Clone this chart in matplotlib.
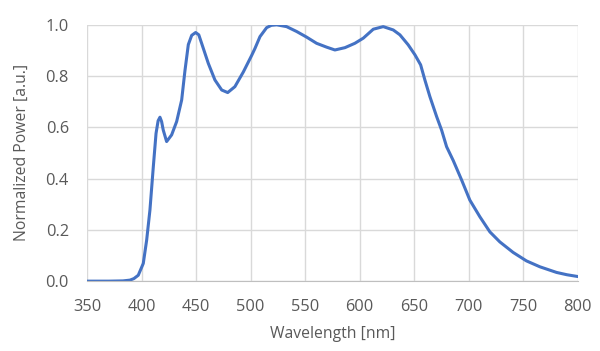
import matplotlib.pyplot as plt

# spectrum
wavelength = [350, 370, 383, 389.4, 393, 397, 401.6, 404.7, 407.7, 410.8, 413.3, 415.2, 416.9,
              418.4, 419.9, 423, 427.6, 432.2, 436.8, 439.8, 442.9, 446, 449.6, 452.5,
              455.1, 461.2, 467.3, 473.5, 479, 485.6, 493.3, 501, 504, 508.6, 514.7,
              519, 523.9, 533, 542.2, 551.4, 560.5, 569.7, 577.3, 586.5, 595.6, 603.3,
              612.5, 621.6, 630.8, 636.9, 644.5, 650.7, 655.9, 659.8, 664.4, 670.6,
              675.1, 679.7, 685.8, 693.4, 701, 710.2, 719.4, 728.5, 740.7, 752.9, 765.2,
              780.5, 790, 800]
power = [0.0, 0.0, 0.001, 0.004, 0.01, 0.023, 0.069, 0.160, 0.277, 0.446, 0.576, 0.625, 0.639,
         0.622, 0.589, 0.544, 0.570, 0.622, 0.706, 0.820, 0.922, 0.958, 0.969, 0.960,
         0.927, 0.849, 0.784, 0.745, 0.735, 0.758, 0.815, 0.880, 0.907, 0.953, 0.988,
         0.997, 0.999, 0.992, 0.973, 0.951, 0.927, 0.912, 0.901, 0.910, 0.927, 0.947,
         0.982, 0.992, 0.979, 0.960, 0.921, 0.882, 0.843, 0.784, 0.719, 0.641,
         0.589, 0.524, 0.470, 0.395, 0.316, 0.251, 0.192, 0.153, 0.112, 0.079, 0.056,
         0.034, 0.025, 0.018]

xticks = [350, 400, 450, 500, 550, 600, 650, 700, 750, 800]
yticks = [0.0, 0.2, 0.4, 0.6, 0.8, 1.0]

plt.rcParams['font.family'] = ['Open Sans', 'DejaVu Sans']
text_color = '#595959'
grid_color = '#d9d9d9'

fig = plt.figure(figsize=(6, 3.51), dpi=100)
ax = fig.add_axes([0.145, 0.199, 0.818, 0.731])

ax.plot(wavelength, power, color='#4472c4', linewidth=2.2,
        solid_joinstyle='round', solid_capstyle='round')

ax.set_xlim(350, 800)
ax.set_ylim(0, 1.0)
ax.set_xticks(xticks)
ax.set_yticks(yticks)
ax.set_yticklabels([f'{v:.1f}' for v in yticks])
ax.grid(True, color=grid_color, linewidth=1.0)
ax.set_axisbelow(True)

for side in ['top', 'right', 'left']:
    ax.spines[side].set_visible(False)
ax.spines['bottom'].set_color('#bfbfbf')
ax.tick_params(length=0, colors=text_color, labelsize=11.8)
ax.tick_params(axis='x', pad=13)
ax.tick_params(axis='y', pad=13)

ax.set_xlabel('Wavelength [nm]', color=text_color, fontsize=11.3, labelpad=8)
ax.set_ylabel('Normalized Power [a.u.]', color=text_color, fontsize=11.3, labelpad=11)

fig.savefig('out.png', dpi=100)
